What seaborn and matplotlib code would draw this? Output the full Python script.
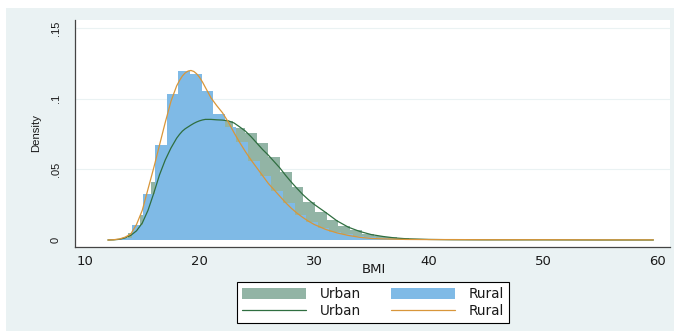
import numpy as np
import pandas as pd
import matplotlib
matplotlib.use("Agg")
import matplotlib.pyplot as plt
from matplotlib.patches import Patch, Rectangle
from matplotlib.lines import Line2D
import seaborn as sns

# histogram bins (Stata computes them separately per group)
urban_start, urban_width = 12.74, 1.02
rural_start, rural_width = 12.05, 1.015

urban_hist = [0.001, 0.005, 0.018, 0.041, 0.063, 0.076, 0.083, 0.086, 0.086,
              0.0845, 0.079, 0.0755, 0.0684, 0.0589, 0.0483, 0.0373, 0.0271, 0.020,
              0.0141, 0.0099, 0.0068, 0.0045, 0.003, 0.0019, 0.0012, 0.0008, 0.0005,
              0.0004, 0.0003, 0.0002, 0.0002, 0.0001, 0.0001, 0.0001, 0.0001, 0.0001,
              0.0001, 0.0001, 0.0001, 0.0001, 0.0001, 0.0001, 0.0001, 0.0001, 0.0001,
              0.0001, 0.0001]
rural_hist = [0.0003, 0.0012, 0.0106, 0.0324, 0.0672, 0.103, 0.1197, 0.1176, 0.1055,
              0.0893, 0.080, 0.069, 0.056, 0.045, 0.035, 0.026, 0.018, 0.0125,
              0.0085, 0.006, 0.004, 0.0027, 0.0018, 0.0011, 0.0007, 0.0005, 0.0004,
              0.0003, 0.0003, 0.0003, 0.0002, 0.0002, 0.0003, 0.0003, 0.0002, 0.0002,
              0.0003, 0.0003, 0.0002, 0.0002, 0.0002, 0.0001, 0.0001, 0.0001, 0.0002,
              0.0002, 0.0001]

# kernel density curves
kx = [12.0, 12.5, 13.0, 13.5, 14.0, 14.5, 15.0, 15.5, 16.0, 16.5, 17.0, 17.5, 18.0,
      18.25, 18.5, 18.75, 19.0, 19.25, 19.5, 19.75, 20.0, 20.25, 20.5, 21.0, 21.5,
      22.0, 22.5, 23.0, 23.5, 24.0, 24.5,
      25.0, 25.5, 26.0, 26.5, 27.0, 27.5, 28.0, 28.5, 29.0, 29.5, 30.0, 31.0, 32.0,
      33.0, 34.0, 35.0, 36.0, 37.0, 38.0, 40.0, 42.0, 45.0, 50.0, 55.0, 59.6]
urban_kd = [0.0, 0.0001, 0.0005, 0.0015, 0.0033, 0.0065, 0.012, 0.021, 0.033, 0.046,
            0.0565, 0.065, 0.072, 0.0747, 0.077, 0.0787, 0.080, 0.0813, 0.0825, 0.0835,
            0.0843, 0.0849, 0.0853, 0.0853, 0.085,
            0.0848, 0.0843, 0.0828, 0.080, 0.077, 0.073, 0.0685, 0.064, 0.060, 0.0555,
            0.051, 0.0458, 0.041, 0.0365, 0.0322, 0.0285, 0.0252, 0.0195, 0.0135, 0.009,
            0.006, 0.0038, 0.0025, 0.0015, 0.0009, 0.0004, 0.0002, 0.0001, 0.0001, 0.0,
            0.0]
rural_kd = [0.0, 0.0002, 0.0007, 0.002, 0.0043, 0.011, 0.021, 0.036, 0.051, 0.067,
            0.083, 0.098, 0.109, 0.1128, 0.116, 0.1182, 0.1195, 0.1199, 0.1192, 0.1175,
            0.115, 0.1118, 0.108, 0.1005, 0.095,
            0.090, 0.0835, 0.076, 0.069, 0.0625, 0.0565, 0.051, 0.0455, 0.040, 0.0355,
            0.031, 0.0265, 0.0225, 0.019, 0.016, 0.0133, 0.011, 0.0075, 0.005, 0.0032,
            0.0019, 0.0011, 0.0008, 0.0006, 0.0004, 0.0003, 0.0003, 0.0002, 0.0002,
            0.0001, 0.0001]

xticks = [10, 20, 30, 40, 50, 60]
yticks = [0, 0.05, 0.1, 0.15]
ytick_labels = ["0", ".05", ".1", ".15"]

bg = "#eaf2f3"
green_bar = "#92b4a5"
blue_bar = "#7fbae6"
green_line = "#2f6e40"
orange_line = "#d8963a"
ink = "#1a1a1a"

sns.set_style("white")
plt.rcParams["font.family"] = ["DejaVu Sans"]
plt.rcParams["text.color"] = ink
plt.rcParams["axes.labelcolor"] = ink
plt.rcParams["xtick.labelcolor"] = ink
plt.rcParams["ytick.labelcolor"] = ink

fig = plt.figure(figsize=(6.74, 3.31), dpi=100)
fig.patch.set_facecolor("white")
fig.patches.append(Rectangle((6 / 674, 0), 1, 1 - 8 / 331, transform=fig.transFigure,
                             facecolor=bg, edgecolor="none", zorder=-10))
ax = fig.add_axes([75 / 674, 84 / 331, 595 / 674, 227 / 331])
ax.set_facecolor("white")

u_edges = urban_start + urban_width * np.arange(len(urban_hist) + 1)
r_edges = rural_start + rural_width * np.arange(len(rural_hist) + 1)
urban_df = pd.DataFrame({"bmi": (u_edges[:-1] + u_edges[1:]) / 2, "w": urban_hist})
rural_df = pd.DataFrame({"bmi": (r_edges[:-1] + r_edges[1:]) / 2, "w": rural_hist})

for yv in yticks[1:]:
    ax.axhline(yv, color=bg, lw=0.8, zorder=0)

sns.histplot(data=urban_df, x="bmi", weights="w", bins=list(u_edges), stat="count",
             element="step", fill=True, color=green_bar, alpha=1, linewidth=0, ax=ax,
             zorder=2)
sns.histplot(data=rural_df, x="bmi", weights="w", bins=list(r_edges), stat="count",
             element="step", fill=True, color=blue_bar, alpha=1, linewidth=0, ax=ax,
             zorder=3)
sns.lineplot(x=kx, y=urban_kd, color=green_line, lw=0.9, estimator=None, ax=ax, zorder=4)
sns.lineplot(x=kx, y=rural_kd, color=orange_line, lw=0.9, estimator=None, ax=ax, zorder=5)

ax.set_xlim(9.13, 61.05)
ax.set_ylim(-0.00495, 0.1556)
ax.set_xticks(xticks)
ax.set_xticklabels([str(t) for t in xticks], fontsize=9.5)
ax.set_yticks(yticks)
ax.set_yticklabels(ytick_labels, rotation=90, va="center", fontsize=8,
                   family="Liberation Sans")
ax.tick_params(axis="x", length=4, width=0.8, color="#444444", pad=2)
ax.tick_params(axis="y", length=5, width=0.8, color="#444444", pad=5)

for s in ["top", "right"]:
    ax.spines[s].set_visible(False)
for s in ["left", "bottom"]:
    ax.spines[s].set_color("#444444")
    ax.spines[s].set_linewidth(0.9)

ax.set_xlabel("BMI", fontsize=9.5, va="center")
ax.xaxis.set_label_coords(0.5025, -0.101)
ax.set_ylabel("Density", fontsize=8.2, va="center", family="Liberation Sans")
ax.yaxis.set_label_coords(-0.0655, 0.5)

handles = [Patch(facecolor=green_bar, edgecolor="none"),
           Line2D([], [], color=green_line, lw=0.9),
           Patch(facecolor=blue_bar, edgecolor="none"),
           Line2D([], [], color=orange_line, lw=0.9)]
labels = ["Urban", "Urban", "Rural", "Rural"]
leg = fig.legend(handles, labels, ncol=2, loc="center",
                 bbox_to_anchor=(373 / 674, 1 - 302.5 / 331), fontsize=9.8,
                 frameon=True, fancybox=False, edgecolor="black", facecolor="white",
                 framealpha=1, handlelength=4.7, handleheight=0.9, handletextpad=1.0,
                 columnspacing=2.2, labelspacing=0.22, borderpad=0.35)
leg.get_frame().set_linewidth(0.8)

fig.savefig("out.png", dpi=100, facecolor=fig.get_facecolor())
